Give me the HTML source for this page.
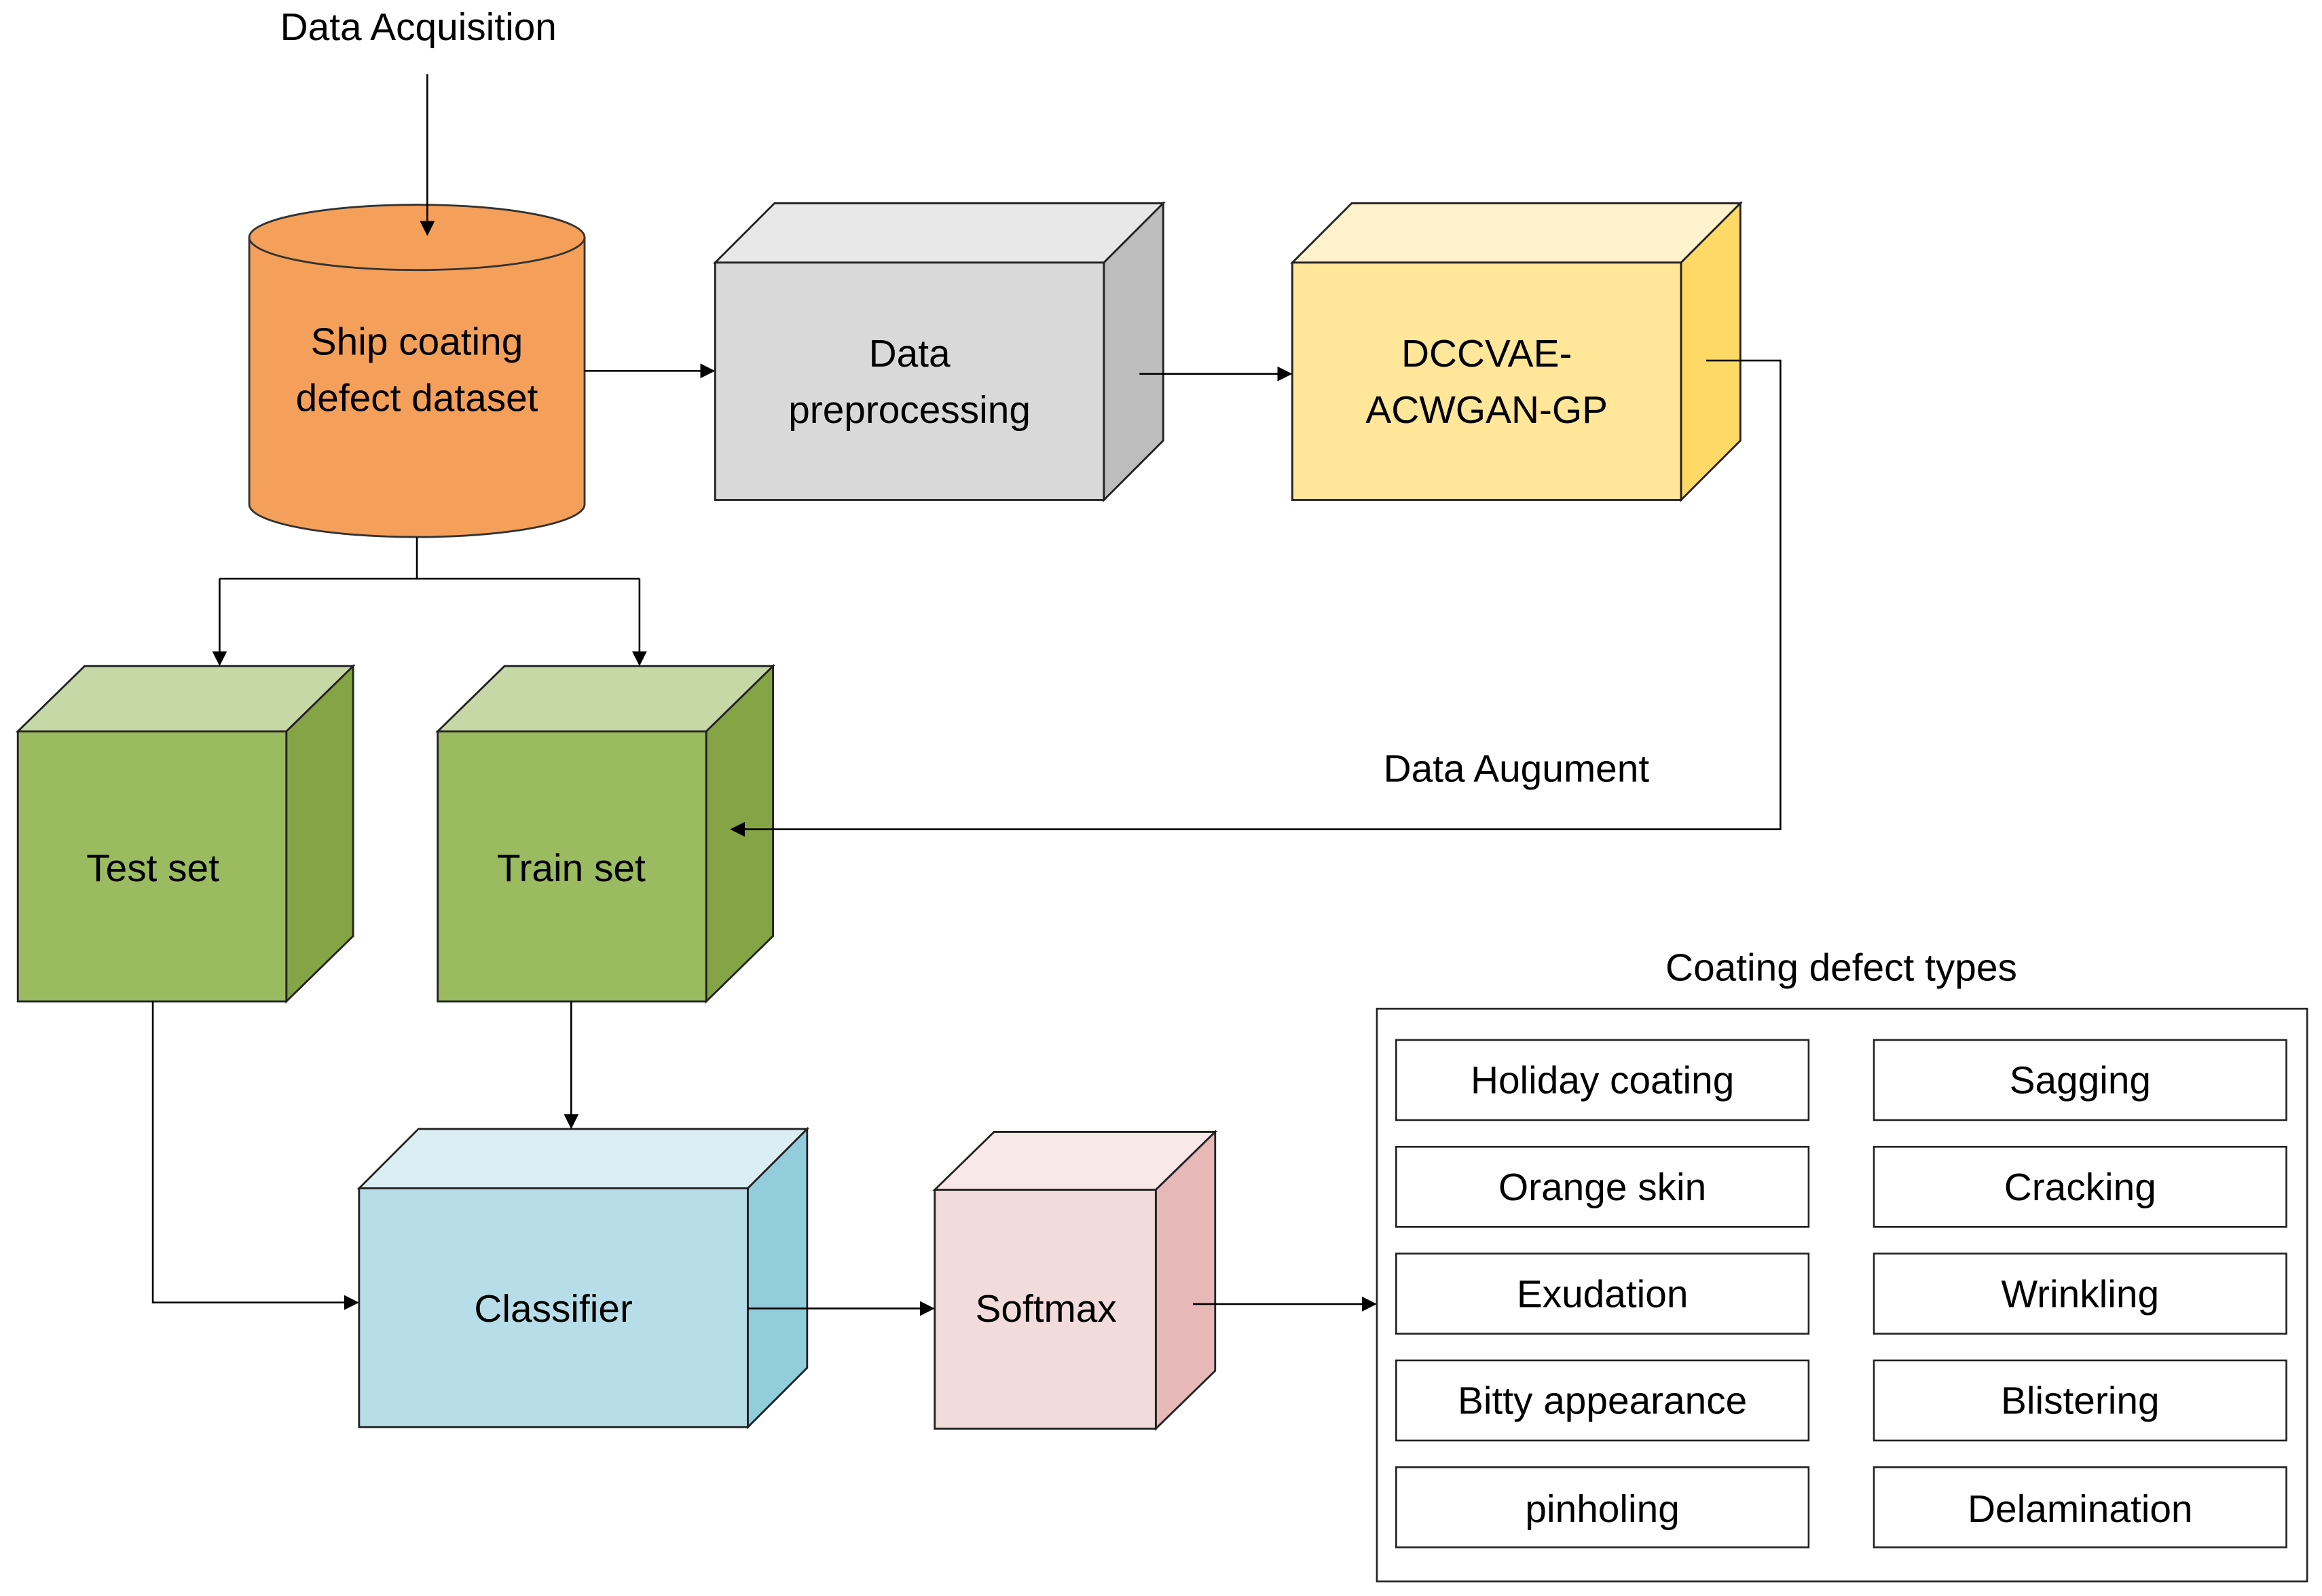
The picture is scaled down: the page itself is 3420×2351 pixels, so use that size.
<!DOCTYPE html>
<html><head><meta charset="utf-8"><style>
html,body{margin:0;padding:0;background:#fff}
svg{display:block}
text{font-family:"Liberation Sans",sans-serif;font-size:26px;fill:#000;text-anchor:middle}
</style></head><body>
<svg width="3420" height="2351" viewBox="0 0 1565 1075.8" xmlns="http://www.w3.org/2000/svg">
<defs><marker id="a" markerWidth="10" markerHeight="10" refX="9" refY="5" orient="auto" markerUnits="userSpaceOnUse"><path d="M0,0 L10,5 L0,10 z" fill="#000"/></marker></defs>
<g stroke="#333" stroke-width="1.3" fill="none">
<path d="M168,160 L168,340 A113,22 0 0 0 394,340 L394,160" fill="#F4A05A"/>
<ellipse cx="281" cy="160" rx="113" ry="22" fill="#F4A05A"/>
</g>
<g stroke="#222" stroke-width="1.3">
<polygon points="482,177 522,137 784,137 744,177" fill="#E8E8E8"/>
<polygon points="744,177 784,137 784,297 744,337" fill="#BDBDBD"/>
<rect x="482" y="177" width="262" height="160" fill="#D9D9D9"/>
<polygon points="871,177 911,137 1173,137 1133,177" fill="#FFF2CC"/>
<polygon points="1133,177 1173,137 1173,297 1133,337" fill="#FFD966"/>
<rect x="871" y="177" width="262" height="160" fill="#FFE699"/>
<polygon points="12,493 57,449 238,449 193,493" fill="#C7D8A7"/>
<polygon points="193,493 238,449 238,631 193,675" fill="#84A445"/>
<rect x="12" y="493" width="181" height="182" fill="#9BBB60"/>
<polygon points="295,493 340,449 521,449 476,493" fill="#C7D8A7"/>
<polygon points="476,493 521,449 521,631 476,675" fill="#84A445"/>
<rect x="295" y="493" width="181" height="182" fill="#9BBB60"/>
<polygon points="242,801 282,761 544,761 504,801" fill="#DAEEF3"/>
<polygon points="504,801 544,761 544,922 504,962" fill="#92CDDC"/>
<rect x="242" y="801" width="262" height="161" fill="#B7DEE8"/>
<polygon points="630,802 670,763 819,763 779,802" fill="#F9E8E8"/>
<polygon points="779,802 819,763 819,924 779,963" fill="#E6B9B8"/>
<rect x="630" y="802" width="149" height="161" fill="#F2DCDB"/>
</g>
<g stroke="#000" stroke-width="1.2" fill="none">
<line x1="288" y1="50" x2="288" y2="158" marker-end="url(#a)"/>
<line x1="394" y1="250" x2="481" y2="250" marker-end="url(#a)"/>
<line x1="768" y1="252" x2="870" y2="252" marker-end="url(#a)"/>
<polyline points="1150,243 1200,243 1200,559 493,559" marker-end="url(#a)"/>
<line x1="281" y1="362" x2="281" y2="390"/>
<polyline points="148,390 431,390"/>
<line x1="148" y1="390" x2="148" y2="448" marker-end="url(#a)"/>
<line x1="431" y1="390" x2="431" y2="448" marker-end="url(#a)"/>
<polyline points="103,675 103,878 241,878" marker-end="url(#a)"/>
<line x1="385" y1="675" x2="385" y2="760" marker-end="url(#a)"/>
<line x1="504" y1="882" x2="629" y2="882" marker-end="url(#a)"/>
<line x1="804" y1="879" x2="927" y2="879" marker-end="url(#a)"/>
<rect x="928" y="680" width="627" height="386" stroke="#222"/>
<g stroke="#222">
<rect x="941" y="701" width="278" height="54"/><rect x="1263" y="701" width="278" height="54"/>
<rect x="941" y="773" width="278" height="54"/><rect x="1263" y="773" width="278" height="54"/>
<rect x="941" y="845" width="278" height="54"/><rect x="1263" y="845" width="278" height="54"/>
<rect x="941" y="917" width="278" height="54"/><rect x="1263" y="917" width="278" height="54"/>
<rect x="941" y="989" width="278" height="54"/><rect x="1263" y="989" width="278" height="54"/>
</g>
</g>
<text x="282" y="27">Data Acquisition</text>
<text x="281" y="239">Ship coating</text>
<text x="281" y="277">defect dataset</text>
<text x="613" y="247">Data</text>
<text x="613" y="285">preprocessing</text>
<text x="1002" y="247">DCCVAE-</text>
<text x="1002" y="285">ACWGAN-GP</text>
<text x="1022" y="527">Data Augument</text>
<text x="103" y="594">Test set</text>
<text x="385" y="594">Train set</text>
<text x="373" y="891">Classifier</text>
<text x="705" y="891">Softmax</text>
<text x="1241" y="661">Coating defect types</text>
<text x="1080" y="737">Holiday coating</text><text x="1402" y="737">Sagging</text>
<text x="1080" y="809">Orange skin</text><text x="1402" y="809">Cracking</text>
<text x="1080" y="881">Exudation</text><text x="1402" y="881">Wrinkling</text>
<text x="1080" y="953">Bitty appearance</text><text x="1402" y="953">Blistering</text>
<text x="1080" y="1026">pinholing</text><text x="1402" y="1026">Delamination</text>
</svg>
</body></html>
